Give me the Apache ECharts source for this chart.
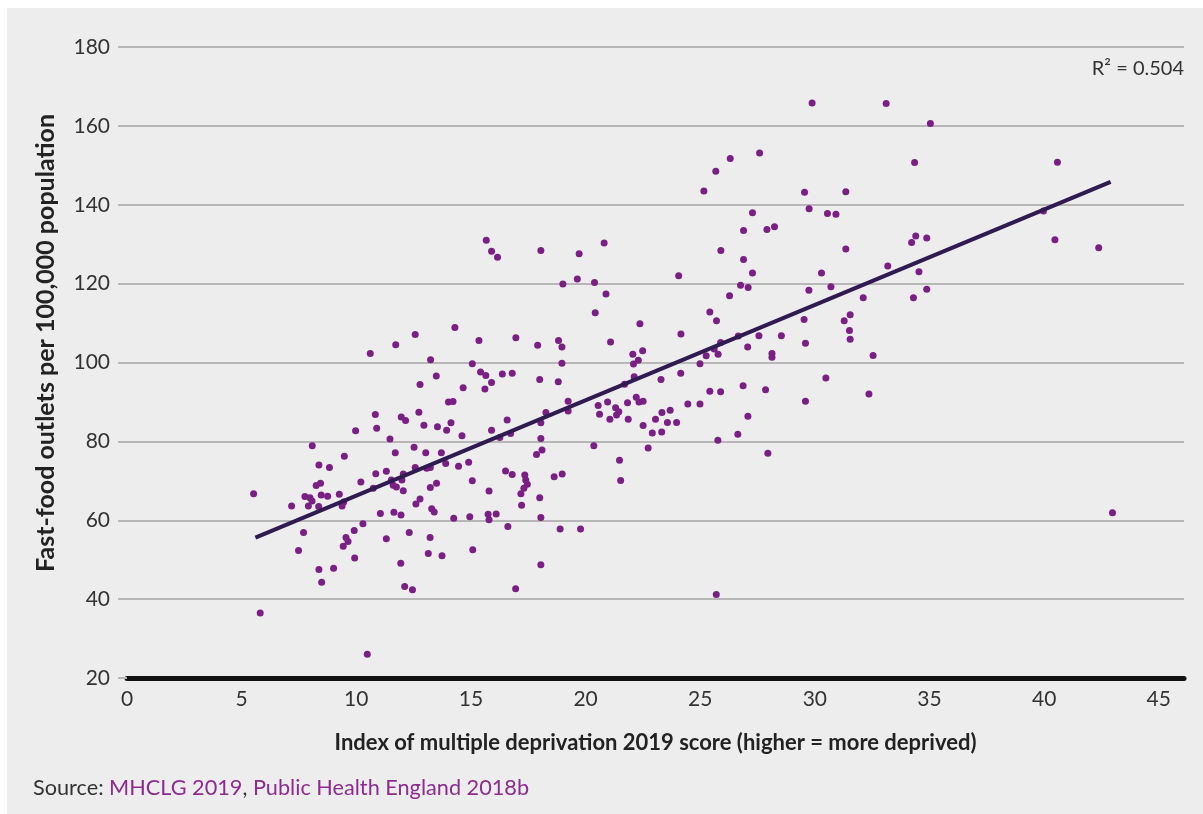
<!DOCTYPE html>
<html>
<head>
<meta charset="utf-8">
<title>Fast-food outlets and deprivation</title>
<script src="https://cdn.jsdelivr.net/npm/echarts@6/dist/echarts.min.js"></script>
<style>
  html, body { margin: 0; padding: 0; background: #ffffff; }
  #chart { position: absolute; left: 7px; top: 8px; width: 1196px; height: 806px; }
</style>
</head>
<body>
<div id="chart"></div>
<script>
// IMD 2019 score per local authority (x) and fast-food outlets per 100,000 (y)
const deprivationScore = [
  5.52, 5.81, 7.18, 7.48, 7.70, 7.76, 7.91, 7.98, 8.07, 8.08, 8.25, 8.36, 8.37, 8.44, 8.37, 8.47, 8.49, 8.75, 8.83, 9.01,
  9.26, 9.45, 9.38, 9.43, 9.48, 9.55, 9.64, 9.91, 9.93, 9.97, 10.20, 10.29, 10.48, 10.61, 10.74, 10.83, 10.85, 10.89, 11.05, 11.31,
  11.31, 11.47, 11.53, 11.61, 11.64, 11.70, 11.72, 11.75, 11.94, 11.96, 11.95, 11.99, 12.05, 12.05, 12.11, 12.15, 12.31, 12.45, 12.52, 12.57,
  12.57, 12.60, 12.73, 12.78, 12.78, 12.95, 13.03, 13.07, 13.14, 13.22, 13.23, 13.23, 13.24, 13.29, 13.40, 13.49, 13.50, 13.54, 13.71, 13.74,
  13.90, 13.94, 14.02, 14.22, 14.13, 14.25, 14.30, 14.46, 14.61, 14.66, 14.90, 14.95, 15.06, 15.06, 15.08, 15.35, 15.42, 15.61, 15.65, 15.75,
  15.79, 15.79, 15.90, 15.67, 15.90, 16.16, 16.37, 16.80, 16.58, 15.90, 16.26, 16.73, 16.96, 17.91, 18.00, 18.05, 18.05, 18.05, 18.27, 18.81,
  18.82, 18.97, 18.97, 19.01, 19.24, 19.24, 19.64, 19.72, 20.39, 20.42, 20.55, 20.61, 20.81, 20.89, 20.96, 21.09, 21.06, 21.31, 21.35, 21.45,
  21.70, 21.83, 21.86, 22.06, 22.12, 22.21, 22.33, 22.51, 22.30, 22.09, 22.37, 22.49, 22.51, 22.91, 23.05, 23.32, 23.29, 23.33, 23.57, 23.69,
  23.97, 24.06, 24.15, 24.16, 24.46, 24.99, 24.99, 25.26, 25.42, 25.42, 25.61, 25.71, 25.78, 25.77, 25.89, 25.90, 25.89, 26.28, 16.51, 16.80,
  17.35, 17.39, 17.46, 17.31, 17.18, 17.21, 18.00, 18.10, 17.86, 18.63, 18.98, 20.36, 21.48, 21.53, 22.73, 16.10, 16.61, 18.05, 18.89, 19.78,
  18.05, 16.95, 25.70, 26.66, 27.56, 28.54, 27.07, 28.13, 28.13, 26.87, 27.85, 27.08, 26.64, 27.95, 29.53, 31.28, 31.54, 31.51, 31.54, 32.54,
  29.59, 30.48, 32.36, 29.59, 29.88, 33.11, 35.04, 27.59, 26.31, 25.68, 25.16, 34.35, 29.55, 31.35, 29.75, 30.55, 30.92, 27.28, 26.89, 27.91,
  28.24, 31.35, 34.22, 34.40, 34.88, 26.89, 27.28, 30.29, 33.18, 34.54, 26.76, 27.09, 29.74, 30.70, 32.11, 34.30, 34.88, 40.58, 39.97, 40.47,
  42.38, 42.98
];
const outletsPer100k = [
  66.7, 36.5, 63.6, 52.3, 56.9, 66.0, 63.6, 65.7, 64.9, 78.9, 68.8, 63.5, 74.0, 69.4, 47.5, 66.4, 44.3, 66.1, 73.4, 47.8,
  66.6, 64.6, 63.6, 53.4, 76.2, 55.6, 54.6, 57.4, 50.4, 82.7, 69.7, 59.1, 26.0, 102.3, 68.1, 86.8, 71.8, 83.3, 61.7, 55.3,
  72.4, 80.6, 70.2, 68.9, 62.0, 77.1, 104.5, 68.4, 49.1, 86.2, 61.3, 70.2, 71.7, 67.5, 43.2, 85.3, 56.9, 42.4, 78.5, 73.4,
  107.1, 64.1, 87.4, 65.4, 94.4, 84.1, 77.1, 73.2, 51.6, 55.6, 73.4, 68.3, 100.7, 62.9, 62.1, 96.6, 69.4, 83.7, 77.1, 51.0,
  74.4, 82.8, 90.0, 90.1, 84.7, 60.5, 108.9, 73.7, 81.4, 93.6, 74.7, 60.9, 99.7, 70.0, 52.5, 105.6, 97.6, 93.3, 96.7, 61.5,
  60.1, 67.4, 94.9, 131.0, 128.2, 126.7, 97.1, 97.3, 85.4, 82.8, 81.0, 82.0, 106.3, 104.4, 95.7, 128.4, 84.7, 80.7, 87.3, 95.1,
  105.6, 103.9, 99.8, 119.9, 90.2, 87.7, 121.2, 127.6, 120.3, 112.6, 89.1, 86.9, 130.3, 117.4, 90.0, 105.2, 85.6, 88.5, 86.7, 87.5,
  94.5, 89.8, 85.6, 102.1, 96.4, 91.2, 90.0, 90.2, 100.6, 99.6, 109.8, 103.0, 84.0, 82.1, 85.6, 82.4, 95.7, 87.3, 84.8, 87.9,
  84.8, 122.0, 97.3, 107.2, 89.5, 89.5, 99.7, 101.7, 112.8, 92.7, 103.4, 110.6, 102.1, 80.3, 105.1, 128.4, 92.6, 116.9, 72.5, 71.6,
  71.5, 70.2, 69.1, 68.1, 66.7, 63.8, 65.7, 77.8, 76.7, 71.0, 71.7, 78.9, 75.2, 70.1, 78.3, 61.6, 58.4, 60.7, 57.8, 57.8,
  48.7, 42.6, 41.2, 106.7, 106.8, 106.8, 103.9, 102.3, 101.3, 94.1, 93.1, 86.4, 81.8, 77.0, 110.9, 110.6, 112.1, 108.1, 105.9, 101.8,
  104.9, 96.1, 92.0, 90.2, 165.8, 165.7, 160.6, 153.1, 151.7, 148.5, 143.5, 150.7, 143.2, 143.3, 139.0, 137.8, 137.6, 138.0, 133.5, 133.7,
  134.4, 128.8, 130.4, 132.1, 131.6, 126.1, 122.7, 122.7, 124.5, 123.0, 119.6, 119.0, 118.3, 119.2, 116.4, 116.4, 118.6, 150.8, 138.4, 131.1,
  129.1, 61.9
];

// fitted trend line, ends as drawn
const trendX = [5.6, 42.9];
const trendY = [55.6, 145.8];

const yTicks = [20, 40, 60, 80, 100, 120, 140, 160, 180];
const xTicks = [0, 5, 10, 15, 20, 25, 30, 35, 40, 45];
const rSquared = '0.504';

const font = 'Lato, "Open Sans", sans-serif';
const textColor = '#333333';
const purple = '#7a1f84';

const points = deprivationScore.map((x, i) => [x, outletsPer100k[i]]);
const trend = trendX.map((x, i) => [x, trendY[i]]);

const chart = echarts.init(document.getElementById('chart'));

chart.setOption({
  backgroundColor: '#ededed',
  animation: false,
  textStyle: { fontFamily: font },
  grid: {
    left: 120,
    top: 39,
    width: 1057,
    height: 631
  },
  xAxis: {
    type: 'value',
    min: xTicks[0],
    max: 46.1,
    interval: 5,
    name: 'Index of multiple deprivation 2019 score (higher = more deprived)',
    nameLocation: 'middle',
    nameGap: 54,
    nameTextStyle: {
      fontFamily: font,
      fontWeight: 'bold',
      fontSize: 22,
      color: '#222222'
    },
    axisLine: {
      lineStyle: { color: '#111111', width: 5 }
    },
    axisTick: { show: false },
    axisLabel: {
      margin: 11,
      fontSize: 21,
      color: textColor,
      showMaxLabel: false
    },
    splitLine: { show: false }
  },
  yAxis: {
    type: 'value',
    min: yTicks[0],
    max: yTicks[yTicks.length - 1],
    interval: 20,
    axisLine: { show: false },
    axisTick: {
      show: true,
      length: 9,
      lineStyle: { color: '#b7b7b7', width: 2 }
    },
    axisLabel: {
      margin: 17,
      fontSize: 21,
      color: textColor
    },
    splitLine: {
      lineStyle: { color: '#b7b7b7', width: 2 }
    }
  },
  series: [
    {
      name: 'Local authorities',
      type: 'scatter',
      symbolSize: 7,
      itemStyle: { color: purple, opacity: 1 },
      data: points,
      z: 3
    },
    {
      name: 'Trend',
      type: 'line',
      data: trend,
      symbol: 'none',
      lineStyle: { color: '#2f1a52', width: 4 },
      z: 4
    }
  ],
  graphic: [
    {
      // y-axis title sits a little above the plot centre in the original
      type: 'text',
      x: 39,
      y: 335,
      rotation: Math.PI / 2,
      style: {
        text: 'Fast-food outlets per 100,000 population',
        font: 'bold 25px ' + font,
        fill: '#222222',
        align: 'center',
        verticalAlign: 'middle'
      }
    },
    {
      type: 'text',
      right: 19,
      top: 51,
      style: {
        text: 'R² = ' + rSquared,
        font: '20px ' + font,
        fill: textColor
      }
    },
    {
      type: 'text',
      left: 26,
      top: 769,
      style: {
        text: '{a|Source: }{b|MHCLG 2019}{a|, }{b|Public Health England 2018b}',
        rich: {
          a: { fontFamily: font, fontSize: 21.7, fill: '#333333', color: '#333333' },
          b: { fontFamily: font, fontSize: 21.7, fill: '#8c2c8e', color: '#8c2c8e' }
        }
      }
    }
  ]
});
</script>
</body>
</html>
